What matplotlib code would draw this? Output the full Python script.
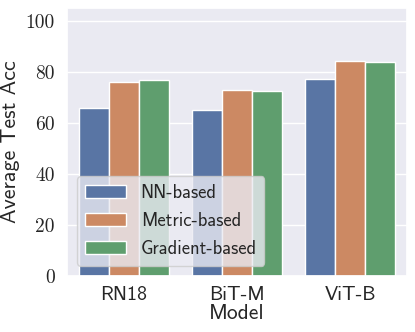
import pandas as pd
import seaborn as sns
import matplotlib.pyplot as plt

models = ["RN18", "BiT-M", "ViT-B"]
methods = ["NN-based", "Metric-based", "Gradient-based"]
nn_acc = [65.8, 65.2, 77.0]
metric_acc = [75.8, 72.9, 84.4]
grad_acc = [76.6, 72.4, 84.0]

rows = []
for m, vals in zip(methods, [nn_acc, metric_acc, grad_acc]):
    for model, v in zip(models, vals):
        rows.append({"Model": model, "Method": m, "Acc": v})
df = pd.DataFrame(rows)

sns.set_theme(style="darkgrid")
plt.rcParams['font.family'] = ['cmss10', 'DejaVu Sans']
plt.rcParams['axes.formatter.use_mathtext'] = True

fig, ax = plt.subplots(figsize=(4.15, 3.32), dpi=100)
sns.barplot(data=df, x="Model", y="Acc", hue="Method", ax=ax, saturation=0.75)
ax.set_ylim(0, 105)
ax.set_yticks([0, 20, 40, 60, 80, 100])
ax.set_yticklabels([str(t) for t in [0, 20, 40, 60, 80, 100]], family='cmr10', fontsize=14)
ax.tick_params(axis='x', labelsize=14.4, pad=1)
ax.tick_params(axis='y', pad=3)
ax.set_xlabel("Model", fontsize=15.5, labelpad=0)
ax.set_ylabel("Average Test Acc", fontsize=15.8, labelpad=4)
ax.legend(loc='lower left', fontsize=13.4, title=None, labelspacing=0.55,
          handlelength=2.2, borderaxespad=0.55)
plt.subplots_adjust(left=0.162, right=0.98, bottom=0.169, top=0.976)
plt.savefig("out.png")
